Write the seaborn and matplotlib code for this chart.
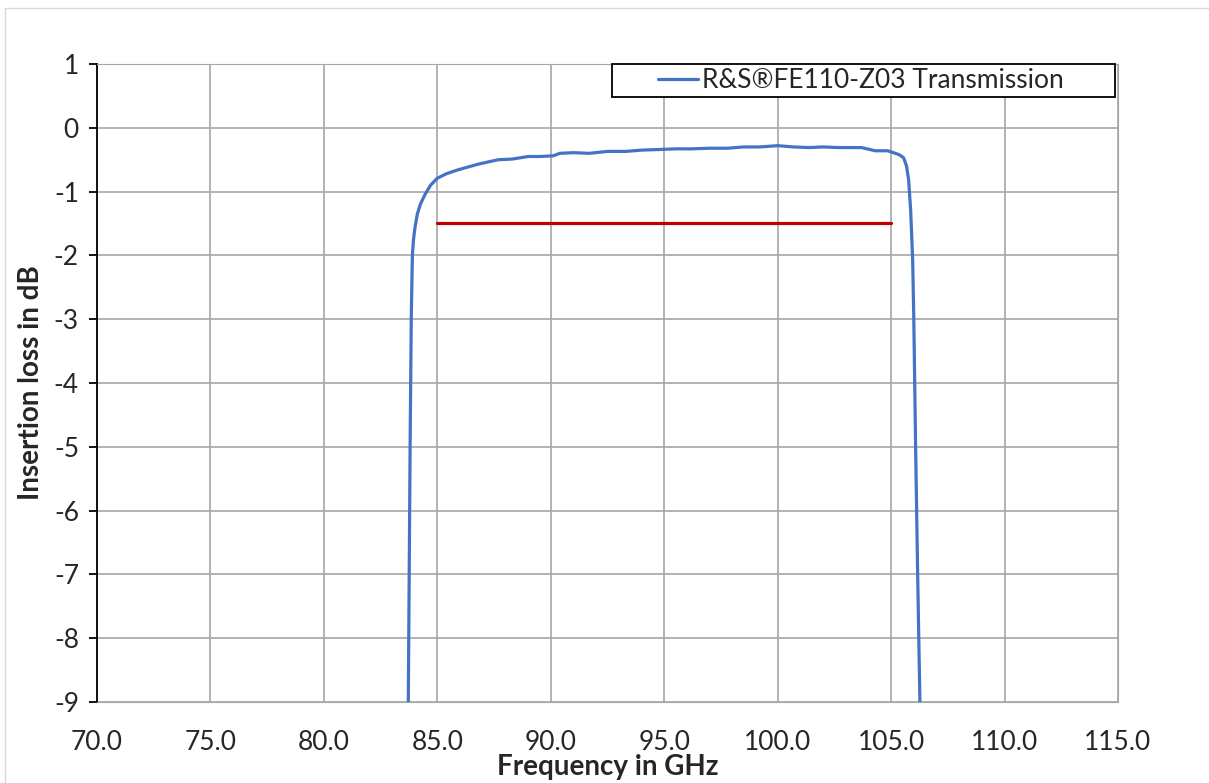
import pandas as pd
import matplotlib.pyplot as plt
import seaborn as sns
from matplotlib.patches import Rectangle

freq = [83.72, 83.76, 83.80, 83.85, 83.90, 83.95, 84.02, 84.12, 84.25, 84.45,
        84.7, 85.0, 85.4, 85.9, 86.3, 86.8, 87.3, 87.7, 88.3, 89.0,
        89.5, 90.1, 90.4, 91.0, 91.7, 92.5, 93.3, 94.0, 94.8, 95.5,
        96.2, 97.0, 97.8, 98.5, 99.2, 100.0, 100.7, 101.4, 102.0, 102.7,
        103.3, 103.7, 104.3, 104.85, 105.1, 105.35, 105.55, 105.68, 105.77, 105.86,
        105.95, 106.0, 106.08, 106.17, 106.27]
loss = [-9, -7, -5, -3, -2, -1.75, -1.55, -1.35, -1.2, -1.05,
        -0.9, -0.79, -0.72, -0.66, -0.62, -0.57, -0.53, -0.5, -0.49, -0.45,
        -0.45, -0.44, -0.4, -0.39, -0.4, -0.37, -0.37, -0.35, -0.34, -0.33,
        -0.33, -0.32, -0.32, -0.30, -0.30, -0.28, -0.30, -0.31, -0.30, -0.31,
        -0.31, -0.31, -0.36, -0.36, -0.39, -0.42, -0.47, -0.6, -0.81, -1.28,
        -2.07, -3, -5, -7, -9]
spec_freq = [85.0, 105.0]
spec_loss = [-1.5, -1.5]
series_name = "R&S\u00aeFE110-Z03 Transmission"

df = pd.DataFrame({"f": freq, "loss": loss})
spec = pd.DataFrame({"f": spec_freq, "loss": spec_loss})

sns.set_style("white")
plt.rcParams['font.family'] = ['Lato', 'DejaVu Sans']
plt.rcParams['axes.unicode_minus'] = False

fig = plt.figure(figsize=(12.09, 7.83), dpi=100)
ax = fig.add_axes([97/1209, 1 - 702/783, (1118 - 97)/1209, (702 - 64)/783])

sns.lineplot(data=df, x="f", y="loss", sort=False, color="#4472C4", lw=2.3,
             label=series_name, ax=ax, zorder=3)
sns.lineplot(data=spec, x="f", y="loss", color="#C00000", lw=2.3, ax=ax,
             legend=False, zorder=3)

ax.set_xlim(70, 115)
ax.set_ylim(-9, 1)
ax.set_xticks(range(70, 116, 5))
ax.set_xticklabels([f"{v:.1f}" for v in range(70, 116, 5)])
ax.set_yticks(range(-9, 2))
ax.grid(True, color="#a6a6a6", lw=1.2)
for s in ["top", "right", "bottom"]:
    ax.spines[s].set_color("#a6a6a6")
ax.spines["left"].set_color("black")
ax.spines["left"].set_linewidth(1.3)
ax.tick_params(axis="y", left=True, length=6, width=1.3, color="black",
               labelsize=19, pad=7)
ax.tick_params(axis="x", bottom=False, labelsize=19, pad=17)

ax.set_xlabel("Frequency in GHz", fontsize=20, fontweight="bold", labelpad=-1)
ax.set_ylabel("Insertion loss in dB", fontsize=20, fontweight="bold", labelpad=7)

# legend box drawn separately, legend itself without frame
ax.add_patch(Rectangle((515/1021, 1 - 33/638), 503/1021, 33/638, transform=ax.transAxes,
                       facecolor="white", edgecolor="black", lw=1.3, zorder=5,
                       clip_on=False))
leg = ax.legend(loc="center left", bbox_to_anchor=(561/1021, 1 - 16.5/638), fontsize=19,
                frameon=False, borderpad=0, handlelength=1.5,
                handletextpad=0.15, borderaxespad=0)
leg.set_zorder(6)

fig.patches.append(Rectangle((5/1209, -0.1), 1.2, 1 - 8/783 + 0.1, transform=fig.transFigure,
                             fill=False, edgecolor="#d9d9d9", lw=1))

fig.savefig("out.png", dpi=100)
